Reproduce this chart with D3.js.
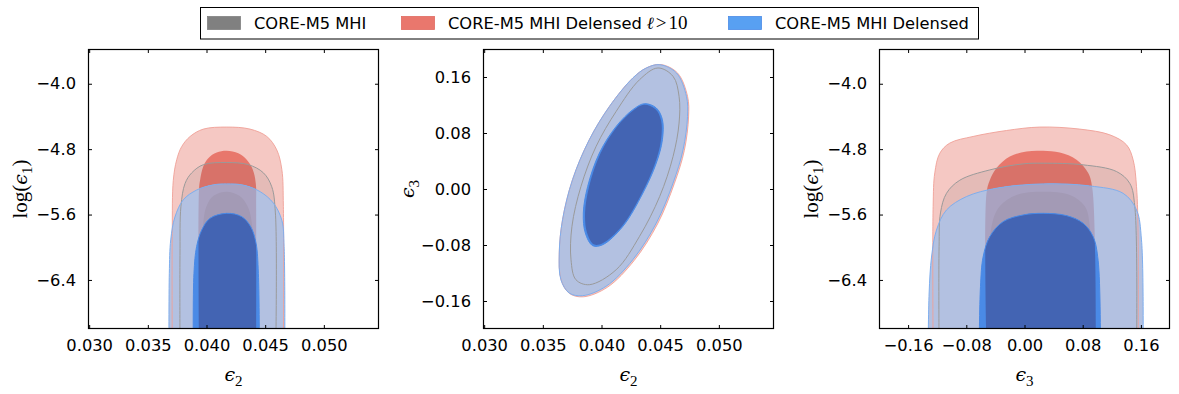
<!DOCTYPE html>
<html>
<head>
<meta charset="utf-8">
<script src="https://cdn.jsdelivr.net/npm/d3@7"></script>
<style>
  body { margin: 0; background: #fff; }
  svg { display: block; }
  .tick-label { font-family: "DejaVu Sans", sans-serif; font-size: 16.3px; fill: #000; }
  .math { font-family: "Liberation Serif", "DejaVu Serif", serif; fill: #000; }
</style>
</head>
<body>
<svg id="chart"></svg>
<script>
// ---- data ----
const seriesNames = ["CORE-M5 MHI", "CORE-M5 MHI Delensed", "CORE-M5 MHI Delensed"];
const e2Ticks = [0.030, 0.035, 0.040, 0.045, 0.050];
const e3Ticks = [-0.16, -0.08, 0.00, 0.08, 0.16];
const logE1Ticks = [-4.0, -4.8, -5.6, -6.4];

// panel 1: eps2 vs log(eps1)  (arches run below the bottom edge and get clipped)
const p1Red95 = [[0.03708,-7.3],[0.03708,-5.83],[0.03717,-5.18],[0.03746,-4.93],[0.03788,-4.77],[0.0386,-4.645],[0.03973,-4.555],[0.04172,-4.53],[0.04371,-4.555],[0.04514,-4.645],[0.04599,-4.81],[0.04642,-5.05],[0.04655,-5.5],[0.04655,-7.3]];
const p1Red68 = [[0.03936,-7.3],[0.03936,-5.3],[0.03945,-5.18],[0.03973,-5.01],[0.04015,-4.91],[0.04087,-4.842],[0.04172,-4.82],[0.04271,-4.85],[0.04343,-4.93],[0.04394,-5.05],[0.0442,-5.22],[0.04423,-5.5],[0.04423,-7.3]];
const p1Gray95 = [[0.03774,-7.3],[0.03774,-6.1],[0.03782,-5.5],[0.03817,-5.22],[0.03874,-5.09],[0.03973,-4.99],[0.04172,-4.964],[0.04357,-4.99],[0.04485,-5.09],[0.04556,-5.26],[0.04587,-5.58],[0.0459,-7.3]];
const p1Gray68 = [[0.0396,-7.3],[0.0397,-5.75],[0.0400,-5.5],[0.0406,-5.37],[0.04172,-5.32],[0.0428,-5.37],[0.0435,-5.5],[0.0439,-5.75],[0.0440,-7.3]];
const p1Blue95 = [[0.0368,-7.3],[0.03683,-6.32],[0.03695,-5.91],[0.03731,-5.63],[0.03802,-5.42],[0.03916,-5.3],[0.04058,-5.237],[0.04172,-5.225],[0.04314,-5.24],[0.04457,-5.32],[0.0457,-5.46],[0.04642,-5.67],[0.04661,-5.99],[0.04667,-7.3]];
const p1Blue68 = [[0.03887,-7.3],[0.03893,-6.32],[0.03916,-5.99],[0.03959,-5.79],[0.0403,-5.646],[0.04172,-5.585],[0.043,-5.626],[0.04377,-5.75],[0.04422,-5.95],[0.04442,-6.32],[0.04451,-7.3]];

// panel 2: eps2 vs eps3 (closed ellipses)
const p2Blue95 = [[0.04496,0.1776],[0.04639,0.1657],[0.04724,0.1323],[0.04733,0.1037],[0.04695,0.0561],[0.0461,0.0086],[0.04467,-0.0486],[0.04267,-0.101],[0.04039,-0.139],[0.03839,-0.1524],[0.03725,-0.1486],[0.03654,-0.1296],[0.0364,-0.0914],[0.03668,-0.0439],[0.03753,0.0133],[0.03896,0.0704],[0.04068,0.118],[0.04267,0.1586],[0.04382,0.1729]];
const p2Red95 = [[0.04506,0.1778],[0.04649,0.1655],[0.04734,0.1318],[0.04742,0.1030],[0.04706,0.0552],[0.0462,0.0075],[0.04478,-0.0498],[0.04278,-0.1022],[0.04049,-0.1405],[0.03845,-0.1540],[0.03728,-0.1494],[0.03656,-0.1300],[0.0364,-0.0914],[0.03668,-0.0439],[0.03753,0.0133],[0.03896,0.0704],[0.04068,0.118],[0.04267,0.1586],[0.04385,0.1732]];
const p2Gray95 = [[0.04481,0.1729],[0.0461,0.1609],[0.04661,0.1323],[0.04661,0.0943],[0.0461,0.0466],[0.04496,-0.0106],[0.04324,-0.0677],[0.04125,-0.1153],[0.03896,-0.1367],[0.03782,-0.1296],[0.0374,-0.101],[0.03748,-0.0534],[0.03825,0.0037],[0.03954,0.0609],[0.04125,0.1109],[0.04324,0.1561]];
const p2Blue68 = [[0.04367,0.1219],[0.04467,0.1157],[0.04519,0.099],[0.04519,0.0704],[0.04467,0.0371],[0.04353,-0.0057],[0.04182,-0.0534],[0.0401,-0.0796],[0.03925,-0.081],[0.03862,-0.0629],[0.03845,-0.0343],[0.03882,0.0037],[0.03982,0.0514],[0.04125,0.0894],[0.04267,0.1133]];
const p2Red68 = [[0.04360,0.1205],[0.04460,0.1140],[0.04508,0.0975],[0.04506,0.0690],[0.04455,0.0360],[0.04343,-0.0065],[0.04175,-0.0530],[0.04010,-0.0775],[0.03935,-0.0790],[0.03876,-0.0620],[0.03860,-0.0340],[0.03895,0.0040],[0.03992,0.0510],[0.04130,0.0885],[0.04267,0.1118]];
const p2Gray68 = [[0.04360,0.1160],[0.04450,0.1100],[0.04495,0.0950],[0.04492,0.0680],[0.04440,0.0350],[0.04330,-0.0060],[0.04170,-0.0490],[0.04010,-0.0730],[0.03940,-0.0740],[0.03885,-0.0580],[0.03870,-0.0310],[0.03905,0.0050],[0.04000,0.0500],[0.04135,0.0860],[0.04270,0.1090]];

// panel 3: eps3 vs log(eps1)
const p3Red95 = [[-0.1256,-7.3],[-0.1256,-5.5],[-0.1233,-5.09],[-0.1164,-4.85],[-0.1027,-4.726],[-0.0707,-4.645],[-0.0247,-4.572],[0.021,-4.53],[0.076,-4.555],[0.1173,-4.625],[0.1402,-4.747],[0.1493,-4.93],[0.154,-5.26],[0.1562,-5.91],[0.1562,-7.3]];
const p3Red68 = [[-0.0522,-7.3],[-0.0522,-5.34],[-0.0477,-5.18],[-0.0385,-5.03],[-0.0202,-4.891],[0.0027,-4.829],[0.0256,-4.821],[0.0485,-4.842],[0.0715,-4.93],[0.0874,-5.09],[0.0935,-5.3],[0.098,-7.3]];
const p3Gray95 = [[-0.1174,-7.3],[-0.1174,-5.99],[-0.1155,-5.58],[-0.1072,-5.34],[-0.0889,-5.18],[-0.0477,-5.054],[-0.0019,-4.98],[0.0256,-4.972],[0.0806,-4.992],[0.1265,-5.074],[0.1448,-5.22],[0.1516,-5.5],[0.154,-7.3]];
const p3Gray68 = [[-0.0477,-7.3],[-0.0454,-5.75],[-0.034,-5.5],[-0.011,-5.36],[0.0256,-5.32],[0.0623,-5.36],[0.0829,-5.5],[0.0898,-5.75],[0.092,-7.3]];
const p3Blue95 = [[-0.1325,-7.3],[-0.1311,-6.56],[-0.1278,-6.12],[-0.121,-5.79],[-0.1072,-5.544],[-0.0797,-5.38],[-0.0385,-5.278],[0.0256,-5.225],[0.0898,-5.25],[0.1355,-5.34],[0.154,-5.544],[0.1608,-5.91],[0.163,-7.3]];
const p3Blue68 = [[-0.0624,-7.3],[-0.0605,-6.48],[-0.0569,-6.12],[-0.0477,-5.87],[-0.0294,-5.687],[-0.0019,-5.605],[0.0256,-5.585],[0.0577,-5.613],[0.0806,-5.707],[0.0943,-5.87],[0.1012,-6.16],[0.1045,-7.3]];

// ---- layout ----
const W = 1179, H = 394;
const panelTop = 49, panelH = 280, panelW = 291;
const svg = d3.select("#chart").attr("width", W).attr("height", H);
const defs = svg.append("defs");

function fmtTick(v, digits) {
  return d3.format("." + digits + "f")(v).replace("-", "\u2212");
}

function drawPanel(opt) {
  const x = d3.scaleLinear().domain(opt.xDomain).range([opt.left, opt.left + panelW]);
  const y = d3.scaleLinear().domain(opt.yDomain).range([panelTop + panelH, panelTop]);
  const line = d3.line()
    .x(d => x(d[0]))
    .y(d => y(d[1]))
    .curve(opt.closed ? d3.curveCatmullRomClosed.alpha(0.5) : d3.curveCatmullRom.alpha(0.5));
  const shape = data => line(data) + (opt.closed ? "" : "Z");

  const g = svg.append("g");
  const id = "p" + opt.id;
  defs.append("clipPath").attr("id", id + "box")
    .append("rect").attr("x", opt.left).attr("y", panelTop)
    .attr("width", panelW).attr("height", panelH);
  defs.append("clipPath").attr("id", id + "b95").append("path").attr("d", shape(opt.blue95));
  defs.append("clipPath").attr("id", id + "r68").append("path").attr("d", shape(opt.red68));

  const area = g.append("g").attr("clip-path", "url(#" + id + "box)");
  const fill = (data, color, op, clip) => {
    const p = area.append("path").attr("d", shape(data)).attr("fill", color).attr("fill-opacity", op);
    if (clip) p.attr("clip-path", "url(#" + id + clip + ")");
  };
  const outline = (data, color, w) =>
    area.append("path").attr("d", shape(data)).attr("fill", "none").attr("stroke", color).attr("stroke-width", w);

  // fills
  fill(opt.red95, "#f5c8c3", 1);
  fill(opt.red68, "#e8776c", 1);
  fill(opt.gray95, "#505050", 0.1);
  fill(opt.blue95, "#b3c1e1", 1);
  fill(opt.red68, "#aaa2c0", 1, "b95");
  fill(opt.gray68, "#a39ab5", 1, "b95");
  fill(opt.blue68, "#4a8ae6", 1);
  fill(opt.blue68, "#4364b3", 1, "r68");
  // contour lines
  outline(opt.red95, "#efa097", 0.9);
  outline(opt.gray95, "#9a9a9a", 1);
  outline(opt.blue95, "#7eaeee", 1);
  outline(opt.blue68, "#4a8ae6", 1);

  // axes with inward ticks on all four sides
  const tickLen = 4;
  const xAxisB = d3.axisBottom(x).tickValues(opt.xTicks).tickSize(-tickLen).tickFormat(v => fmtTick(v, opt.xDigits)).tickPadding(10);
  const xAxisT = d3.axisTop(x).tickValues(opt.xTicks).tickSize(-tickLen).tickFormat("");
  const yAxisL = d3.axisLeft(y).tickValues(opt.yTicks).tickSize(-tickLen).tickFormat(v => fmtTick(v, opt.yDigits)).tickPadding(12);
  const yAxisR = d3.axisRight(y).tickValues(opt.yTicks).tickSize(-tickLen).tickFormat("");

  const gb = g.append("g").attr("transform", "translate(0," + (panelTop + panelH) + ")").call(xAxisB);
  const gt = g.append("g").attr("transform", "translate(0," + panelTop + ")").call(xAxisT);
  const gl = g.append("g").attr("transform", "translate(" + opt.left + ",0)").call(yAxisL);
  const gr = g.append("g").attr("transform", "translate(" + (opt.left + panelW) + ",0)").call(yAxisR);
  [gb, gt, gl, gr].forEach(a => {
    a.select(".domain").remove();
    a.selectAll(".tick line").attr("stroke", "#000").attr("stroke-width", 1);
    a.selectAll(".tick text").attr("class", "tick-label");
  });

  g.append("rect")
    .attr("x", opt.left + 0.5).attr("y", panelTop + 0.5)
    .attr("width", panelW - 1).attr("height", panelH - 1)
    .attr("fill", "none").attr("stroke", "#000").attr("stroke-width", 1.2);

  // axis labels
  mathLabel(g, opt.left + panelW / 2, 381, 0, opt.xLabel);
  mathLabel(g, opt.yLabelX, panelTop + panelH / 2, -90, opt.yLabel);
}

function mathLabel(g, px, py, rot, parts) {
  const t = g.append("text").attr("class", "math")
    .attr("transform", "translate(" + px + "," + py + ") rotate(" + rot + ")")
    .attr("text-anchor", "middle").attr("font-size", 21);
  parts.forEach(p => {
    const s = t.append("tspan").text(p.t);
    if (p.sub) s.attr("font-size", 15).attr("dy", 5);
    if (p.italic) s.attr("font-style", "italic").attr("font-family", "DejaVu Serif, serif").attr("font-size", 19);
    if (p.up) s.attr("dy", -5);
  });
}

const lblE2 = [{t: "\u03f5", italic: true}, {t: "2", sub: true}];
const lblE3 = [{t: "\u03f5", italic: true}, {t: "3", sub: true}];
const lblLog = [{t: "log("}, {t: "\u03f5", italic: true}, {t: "1", sub: true}, {t: ")", up: true}];

drawPanel({
  id: 1, left: 88, xDomain: [0.0299, 0.0547], yDomain: [-7.0, -3.575],
  xTicks: e2Ticks, yTicks: logE1Ticks, xDigits: 3, yDigits: 1,
  xLabel: lblE2, yLabel: lblLog, yLabelX: 27, closed: false,
  red95: p1Red95, red68: p1Red68, gray95: p1Gray95, gray68: p1Gray68, blue95: p1Blue95, blue68: p1Blue68
});

drawPanel({
  id: 2, left: 483, xDomain: [0.0299, 0.0547], yDomain: [-0.2, 0.2],
  xTicks: e2Ticks, yTicks: e3Ticks, xDigits: 3, yDigits: 2,
  xLabel: lblE2, yLabel: lblE3, yLabelX: 414, closed: true,
  red95: p2Red95, red68: p2Red68, gray95: p2Gray95, gray68: p2Gray68, blue95: p2Blue95, blue68: p2Blue68
});

drawPanel({
  id: 3, left: 879, xDomain: [-0.2, 0.2], yDomain: [-7.0, -3.575],
  xTicks: e3Ticks, yTicks: logE1Ticks, xDigits: 2, yDigits: 1,
  xLabel: lblE3, yLabel: lblLog, yLabelX: 818, closed: false,
  red95: p3Red95, red68: p3Red68, gray95: p3Gray95, gray68: p3Gray68, blue95: p3Blue95, blue68: p3Blue68
});

// ---- legend ----
const legend = svg.append("g");
legend.append("rect").attr("x", 200.5).attr("y", 7.5).attr("width", 778).attr("height", 31.5)
  .attr("fill", "#fff").attr("stroke", "#000").attr("stroke-width", 1);
const legendItems = [
  {x: 207, color: "#808080", edge: "#808080", name: seriesNames[0], extra: false},
  {x: 401, color: "#e9776d", edge: "#e06a60", name: seriesNames[1], extra: true},
  {x: 728, color: "#58a0f2", edge: "#4a8ae6", name: seriesNames[2], extra: false}
];
legendItems.forEach(it => {
  legend.append("rect").attr("x", it.x + 0.5).attr("y", 16.5).attr("width", 33).attr("height", 13)
    .attr("fill", it.color).attr("stroke", it.edge).attr("stroke-width", 0.8);
  const t = legend.append("text").attr("x", it.x + 47).attr("y", 29)
    .attr("font-family", "DejaVu Sans, sans-serif").attr("font-size", 16.3).text(it.name);
  if (it.extra) {
    t.append("tspan").attr("font-family", "DejaVu Serif, serif")
      .attr("font-style", "italic").attr("font-size", 17).attr("dx", 5).text("\u2113");
    t.append("tspan").attr("font-family", "Liberation Serif, serif")
      .attr("font-size", 19).attr("dx", 2).text(">");
    t.append("tspan").attr("font-family", "Liberation Serif, serif")
      .attr("font-size", 19).attr("dx", 2).text("10");
  }
});
</script>
</body>
</html>
